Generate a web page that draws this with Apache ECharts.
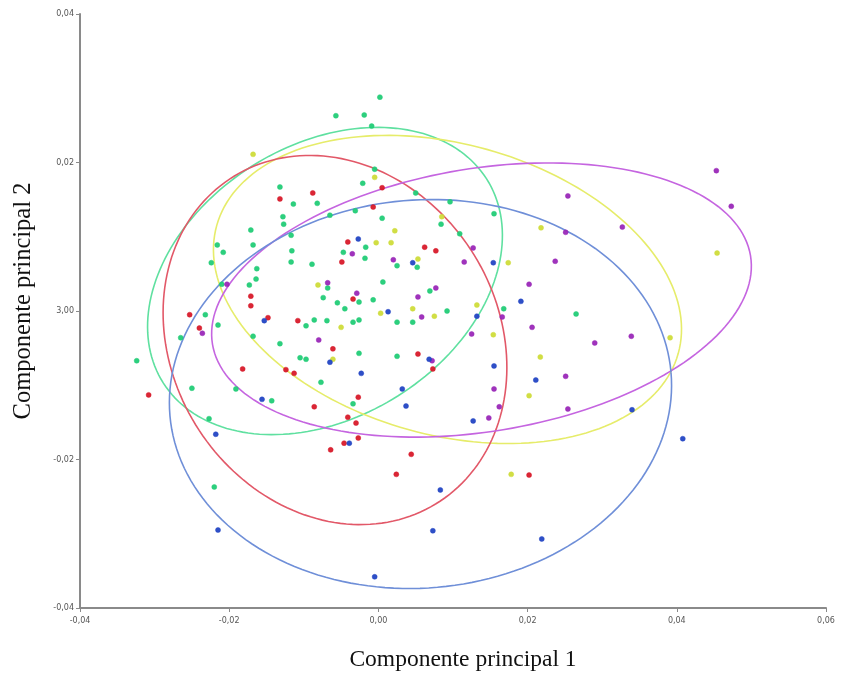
<!DOCTYPE html>
<html>
<head>
<meta charset="utf-8">
<script src="https://cdn.jsdelivr.net/npm/echarts@6/dist/echarts.min.js"></script>
<style>html,body{margin:0;padding:0;background:#fff}#c{width:847px;height:677px}</style>
</head>
<body>
<div id="c"></div>
<script>
// tick labels as printed in the reference
const xTickLabels = ['-0,04','-0,02','0,00','0,02','0,04','0,06'];
const yTickLabels = ['-0,04','-0,02','3,00','0,02','0,04'];

// group scores [PC1, PC2]
const greenPts = [
[0.0002,0.0288],[-0.0019,0.0264],[-0.0057,0.0263],[-0.0009,0.0249],[-0.0005,0.0191],[-0.0021,0.0172],
[-0.0132,0.0167],[-0.0114,0.0144],[-0.0082,0.0145],[-0.0128,0.0127],[-0.0127,0.0117],[-0.0171,0.0109],
[-0.0117,0.0102],[-0.0065,0.0129],[-0.0031,0.0135],[0.0005,0.0125],[0.0050,0.0159],[0.0096,0.0147],
[0.0084,0.0117],[0.0155,0.0131],[0.0109,0.0104],[-0.0017,0.0086],[-0.0216,0.0089],[-0.0208,0.0079],
[-0.0168,0.0089],[-0.0116,0.0081],[-0.0047,0.0079],[-0.0018,0.0071],[-0.0117,0.0066],[-0.0089,0.0063],
[-0.0224,0.0065],[-0.0163,0.0057],[-0.0164,0.0043],[-0.0173,0.0035],[-0.0210,0.0036],[-0.0068,0.0031],
[0.0025,0.0061],[0.0052,0.0059],[0.0006,0.0039],[0.0069,0.0027],[-0.0074,0.0018],[-0.0055,0.0011],
[-0.0026,0.0012],[-0.0007,0.0015],[-0.0045,0.0003],[-0.0232,-0.0005],[-0.0215,-0.0019],[-0.0265,-0.0036],
[-0.0086,-0.0012],[-0.0097,-0.0020],[-0.0069,-0.0013],[-0.0034,-0.0015],[-0.0026,-0.0012],[0.0025,-0.0015],
[0.0046,-0.0015],[0.0092,0.0000],[0.0168,0.0003],[0.0265,-0.0004],[-0.0168,-0.0034],[-0.0132,-0.0044],
[-0.0105,-0.0063],[-0.0097,-0.0065],[-0.0026,-0.0057],[0.0025,-0.0061],[-0.0324,-0.0067],[-0.0077,-0.0096],
[-0.0250,-0.0104],[-0.0191,-0.0105],[-0.0143,-0.0121],[-0.0034,-0.0125],[-0.0227,-0.0145],[-0.0220,-0.0237]
];
const redPts = [
[-0.0132,0.0151],[-0.0088,0.0159],[-0.0007,0.0140],[0.0005,0.0166],[-0.0041,0.0093],[-0.0049,0.0066],
[0.0062,0.0086],[0.0077,0.0081],[-0.0034,0.0016],[-0.0171,0.0020],[-0.0171,0.0007],[-0.0253,-0.0005],
[-0.0240,-0.0023],[-0.0148,-0.0009],[-0.0108,-0.0013],[-0.0061,-0.0051],[-0.0182,-0.0078],[-0.0124,-0.0079],
[-0.0113,-0.0084],[-0.0308,-0.0113],[-0.0027,-0.0116],[-0.0086,-0.0129],[-0.0041,-0.0143],[-0.0030,-0.0151],
[-0.0027,-0.0171],[-0.0046,-0.0178],[-0.0064,-0.0187],[0.0053,-0.0058],[0.0073,-0.0078],[0.0044,-0.0193],
[0.0024,-0.0220],[0.0202,-0.0221]
];
const yellowPts = [
[-0.0168,0.0211],[-0.0005,0.0180],[0.0022,0.0108],[-0.0003,0.0092],[0.0017,0.0092],[0.0085,0.0127],
[0.0218,0.0112],[0.0174,0.0065],[0.0053,0.0070],[-0.0081,0.0035],[0.0003,-0.0003],[0.0046,0.0003],
[0.0075,-0.0007],[0.0132,0.0008],[-0.0050,-0.0022],[-0.0061,-0.0065],[0.0154,-0.0032],[0.0217,-0.0062],
[0.0202,-0.0114],[0.0391,-0.0036],[0.0454,0.0078],[0.0178,-0.0220]
];
const magentaPts = [
[-0.0035,0.0077],[0.0020,0.0069],[0.0127,0.0085],[0.0115,0.0066],[-0.0203,0.0036],[-0.0068,0.0038],
[-0.0029,0.0024],[0.0077,0.0031],[0.0053,0.0019],[0.0058,-0.0008],[0.0166,-0.0008],[0.0202,0.0036],
[0.0237,0.0067],[0.0254,0.0155],[0.0251,0.0106],[0.0327,0.0113],[0.0453,0.0189],[0.0473,0.0141],
[0.0206,-0.0022],[0.0125,-0.0031],[0.0290,-0.0043],[0.0339,-0.0034],[0.0251,-0.0088],[0.0155,-0.0105],
[0.0162,-0.0129],[0.0254,-0.0132],[0.0148,-0.0144],[-0.0236,-0.0030],[-0.0080,-0.0039],[0.0072,-0.0067]
];
const bluePts = [
[-0.0027,0.0097],[0.0046,0.0065],[0.0154,0.0065],[0.0013,-0.0001],[-0.0153,-0.0013],[0.0132,-0.0007],
[0.0191,0.0013],[-0.0065,-0.0069],[-0.0023,-0.0084],[0.0068,-0.0065],[0.0155,-0.0074],[0.0211,-0.0093],
[0.0032,-0.0105],[0.0037,-0.0128],[-0.0156,-0.0119],[-0.0218,-0.0166],[0.0127,-0.0148],[0.0340,-0.0133],
[0.0408,-0.0172],[-0.0039,-0.0178],[0.0083,-0.0241],[-0.0215,-0.0295],[0.0073,-0.0296],[0.0219,-0.0307],
[-0.0005,-0.0358]
];

// confidence ellipses: [centerPC1, centerPC2, semiMajor, semiMinor, angleDeg]
const greenEllipse   = [-0.00716, 0.00404, 0.02566, 0.01831, 32.4];
const redEllipse     = [-0.00582,-0.00391, 0.02588, 0.02189,-58.6];
const yellowEllipse  = [ 0.00926, 0.00290, 0.03211, 0.01959,-15.6];
const magentaEllipse = [ 0.01382, 0.00148, 0.03655, 0.01771,  9.4];
const blueEllipse    = [ 0.00564,-0.01118, 0.03371, 0.02613,  5.0];

const pointColors = {green:'#22cc77', red:'#d81a2a', yellow:'#cfdc3a', magenta:'#9a28b8', blue:'#2346c4'};
const lineColors  = {green:'#5fe0a0', red:'#e25868', yellow:'#e6ec6a', magenta:'#c565e0', blue:'#6f8fd8'};

function ellipseSeries(params, color) {
  return {
    type: 'custom',
    silent: true,
    z: 3,
    data: [params],
    encode: {x: 0, y: 1},
    renderItem: function (p, api) {
      const cx = api.value(0), cy = api.value(1), a = api.value(2), b = api.value(3);
      const t = api.value(4) * Math.PI / 180;
      const pts = [];
      for (let i = 0; i <= 180; i++) {
        const u = i / 180 * 2 * Math.PI;
        const ex = a * Math.cos(u), ey = b * Math.sin(u);
        pts.push(api.coord([cx + ex * Math.cos(t) - ey * Math.sin(t), cy + ex * Math.sin(t) + ey * Math.cos(t)]));
      }
      return {type: 'polyline', shape: {points: pts}, style: {stroke: color, lineWidth: 1.6, fill: null}};
    }
  };
}
function scatterSeries(data, color) {
  return {type: 'scatter', data: data, symbolSize: 5, z: 4,
    itemStyle: {color: color, borderColor: color, borderWidth: 0.5, opacity: 0.95}};
}

const chart = echarts.init(document.getElementById('c'), null, {renderer: 'canvas'});
chart.setOption({
  animation: false,
  backgroundColor: '#ffffff',
  grid: {left: 80, right: 21, top: 14, bottom: 69},
  xAxis: {
    type: 'value', min: -0.04, max: 0.06, interval: 0.02,
    name: 'Componente principal 1', nameLocation: 'middle', nameGap: 40,
    nameTextStyle: {fontFamily: 'Liberation Serif', fontSize: 23.5, color: '#111', padding: [0, 0, 0, 20]},
    axisLine: {show: true, onZero: false, lineStyle: {color: '#8a8a8a', width: 2}},
    axisTick: {show: true, length: 4, lineStyle: {color: '#8a8a8a'}},
    splitLine: {show: false},
    axisLabel: {fontFamily: 'DejaVu Sans', fontSize: 8, color: '#555', margin: 9,
      formatter: function (v) { return xTickLabels[Math.round((v + 0.04) / 0.02)]; }}
  },
  yAxis: {
    type: 'value', min: -0.04, max: 0.04, interval: 0.02,
    name: 'Componente principal 2', nameLocation: 'middle', nameGap: 44,
    nameTextStyle: {fontFamily: 'Liberation Serif', fontSize: 24.5, color: '#111', padding: [0, 0, 0, 20]},
    axisLine: {show: true, onZero: false, lineStyle: {color: '#8a8a8a', width: 2}},
    axisTick: {show: true, length: 4, lineStyle: {color: '#8a8a8a'}},
    splitLine: {show: false},
    axisLabel: {fontFamily: 'DejaVu Sans', fontSize: 8, color: '#555', margin: 6,
      formatter: function (v) { return yTickLabels[Math.round((v + 0.04) / 0.02)]; }}
  },
  series: [
    ellipseSeries(greenEllipse, lineColors.green),
    ellipseSeries(yellowEllipse, lineColors.yellow),
    ellipseSeries(redEllipse, lineColors.red),
    ellipseSeries(magentaEllipse, lineColors.magenta),
    ellipseSeries(blueEllipse, lineColors.blue),
    scatterSeries(greenPts, pointColors.green),
    scatterSeries(yellowPts, pointColors.yellow),
    scatterSeries(redPts, pointColors.red),
    scatterSeries(magentaPts, pointColors.magenta),
    scatterSeries(bluePts, pointColors.blue)
  ]
});
</script>
</body>
</html>
